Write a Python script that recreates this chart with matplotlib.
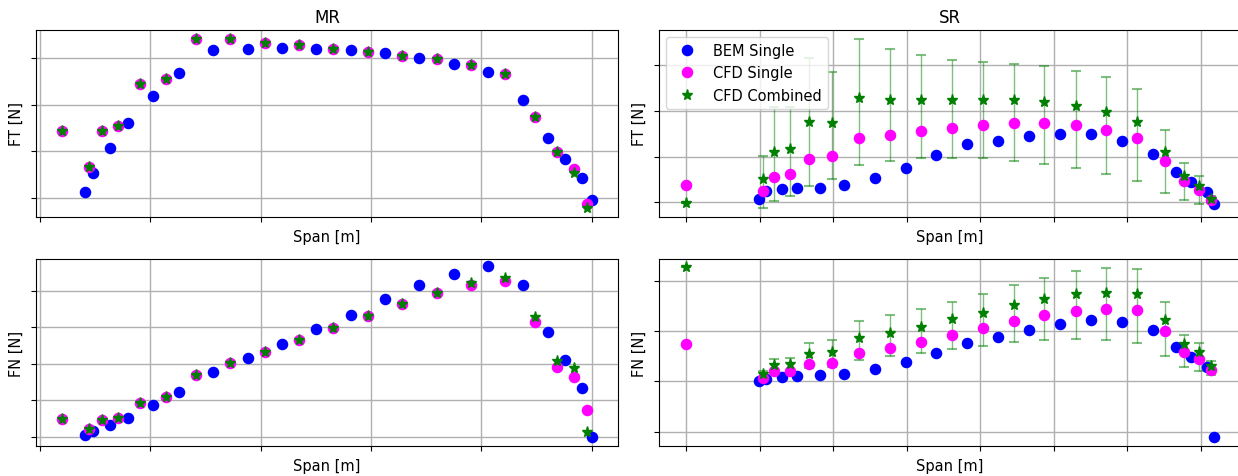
import numpy as np
import matplotlib
matplotlib.use('Agg')
import matplotlib.pyplot as plt

# ---- data (x in tick units, y in tick units) ----

# MR: BEM single
mr_bem_x = [0.406, 0.483, 0.635, 0.795, 1.024, 1.260, 1.573, 1.882, 2.194, 2.503,
            2.819, 3.128, 3.438, 3.750, 4.063, 4.378, 4.608, 4.764, 4.917, 5.000]
mr_bem_ft = [0.121, 0.536, 1.064, 1.607, 2.193, 2.693, 3.171, 3.207, 3.221, 3.207,
             3.179, 3.107, 3.000, 2.886, 2.707, 2.100, 1.279, 0.843, 0.429, -0.036]
mr_bem_fn = [0.037, 0.156, 0.320, 0.522, 0.860, 1.236, 1.776, 2.151, 2.535, 2.947,
             3.341, 3.762, 4.146, 4.449, 4.668, 4.165, 2.856, 2.105, 1.346, -0.009]

# MR: CFD single / combined
mr_cfd_x = [0.205, 0.441, 0.559, 0.712, 0.906, 1.142, 1.413, 1.726, 2.038, 2.351,
            2.660, 2.972, 3.285, 3.597, 3.910, 4.219, 4.490, 4.688, 4.840, 4.962]
mr_cfd_ft = [1.443, 0.671, 1.443, 1.550, 2.450, 2.550, 3.421, 3.407, 3.329, 3.279,
             3.207, 3.143, 3.050, 2.979, 2.864, 2.657, 1.750, 0.979, 0.629, -0.129]
mr_comb_ft = [1.443, 0.671, 1.443, 1.550, 2.450, 2.550, 3.421, 3.407, 3.329, 3.279,
              3.207, 3.143, 3.050, 2.979, 2.864, 2.657, 1.750, 0.979, 0.536, -0.214]
mr_cfd_fn = [0.494, 0.220, 0.458, 0.522, 0.915, 1.080, 1.703, 2.014, 2.325, 2.645,
             2.966, 3.314, 3.634, 3.927, 4.165, 4.265, 3.130, 1.922, 1.638, 0.723]
mr_comb_fn = [0.494, 0.220, 0.458, 0.522, 0.915, 1.080, 1.703, 2.014, 2.325, 2.645,
              2.966, 3.314, 3.634, 3.927, 4.201, 4.357, 3.268, 2.078, 1.895, 0.128]

# SR: BEM single
sr_bem_x = [0.986, 1.091, 1.302, 1.513, 1.824, 2.140, 2.562, 2.984, 3.400, 3.822,
            4.244, 4.660, 5.082, 5.503, 5.925, 6.342, 6.658, 6.869, 7.080, 7.174]
sr_bem_ft = [0.065, 0.239, 0.290, 0.312, 0.312, 0.370, 0.529, 0.754, 1.022, 1.275,
             1.341, 1.457, 1.500, 1.486, 1.341, 1.065, 0.659, 0.449, 0.225, -0.043]
sr_bem_fn = [1.015, 1.055, 1.082, 1.102, 1.121, 1.155, 1.254, 1.380, 1.559, 1.758,
             1.878, 2.031, 2.143, 2.216, 2.190, 2.031, 1.692, 1.493, 1.287, -0.106]

# SR: CFD single / combined (with min/max band of combined runs)
sr_cfd_x = [0.000, 1.044, 1.197, 1.407, 1.666, 1.982, 2.356, 2.773, 3.195, 3.611,
            4.033, 4.454, 4.871, 5.298, 5.714, 6.131, 6.505, 6.763, 6.974, 7.132]
sr_cfd_ft = [0.384, 0.239, 0.543, 0.609, 0.949, 1.007, 1.399, 1.478, 1.551, 1.630,
             1.681, 1.725, 1.725, 1.688, 1.587, 1.413, 0.891, 0.457, 0.261, 0.043]
sr_comb_ft = [-0.014, 0.500, 1.109, 1.159, 1.754, 1.725, 2.268, 2.232, 2.232, 2.239,
              2.239, 2.232, 2.196, 2.109, 1.978, 1.754, 1.094, 0.580, 0.348, 0.072]
sr_comb_ft_lo = [-0.014, -0.123, 0.029, 0.130, 0.362, 0.507, 0.804, 0.906, 0.957, 0.971,
                 0.964, 0.906, 0.833, 0.739, 0.616, 0.457, 0.203, 0.051, -0.036, -0.007]
sr_comb_ft_hi = [-0.014, 1.007, 2.072, 2.072, 3.145, 2.848, 3.565, 3.355, 3.210, 3.116,
                 3.065, 3.014, 2.964, 2.870, 2.739, 2.464, 1.580, 0.848, 0.572, 0.130]
sr_cfd_fn = [1.739, 1.075, 1.208, 1.208, 1.340, 1.374, 1.559, 1.666, 1.792, 1.924,
             2.057, 2.203, 2.316, 2.402, 2.435, 2.422, 1.997, 1.586, 1.453, 1.234]
sr_comb_fn = [3.285, 1.155, 1.327, 1.340, 1.539, 1.579, 1.858, 1.964, 2.077, 2.236,
              2.369, 2.522, 2.634, 2.741, 2.767, 2.741, 2.223, 1.739, 1.586, 1.307]
sr_comb_fn_lo = [3.285, 1.082, 1.188, 1.188, 1.261, 1.294, 1.433, 1.513, 1.573, 1.652,
                 1.712, 1.792, 1.832, 1.851, 1.825, 1.772, 1.513, 1.294, 1.214, 1.121]
sr_comb_fn_hi = [3.285, 1.208, 1.453, 1.473, 1.772, 1.831, 2.210, 2.322, 2.449, 2.588,
                 2.747, 2.926, 3.059, 3.198, 3.265, 3.238, 2.581, 1.924, 1.772, 1.407]

# ---- figure ----
W, H = 1238, 477
fig = plt.figure(figsize=(W / 100, H / 100), dpi=100)
plt.rcParams['font.size'] = 10.5


def px_axes(x0, x1, y0, y1):
    # axes from pixel box (top-left origin)
    return fig.add_axes([x0 / W, 1 - y1 / H, (x1 - x0) / W, (y1 - y0) / H])


def style(ax, xticks, yticks, xlim, ylim, ylabel):
    ax.set_xticks(xticks)
    ax.set_yticks(yticks)
    ax.set_xticklabels([])
    ax.set_yticklabels([])
    ax.set_xlim(xlim)
    ax.set_ylim(ylim)
    ax.grid(True, color='#b0b0b0', linewidth=1.0)
    ax.set_axisbelow(True)
    ax.set_xlabel('Span [m]', labelpad=2)
    ax.set_ylabel(ylabel, labelpad=2)


ms_o = 7.3
ms_s = 8.0


def draw(ax, bx, by, cx, cy, sy, lo=None, hi=None):
    ax.plot(bx, by, 'o', color='blue', markersize=ms_o, label='BEM Single', zorder=3)
    ax.plot(cx, cy, 'o', color='magenta', markersize=ms_o, label='CFD Single', zorder=3)
    if lo is not None:
        sy_a = np.array(sy)
        yerr = [sy_a - np.array(lo), np.array(hi) - sy_a]
        ax.errorbar(cx, sy, yerr=yerr, fmt='none', ecolor='green', elinewidth=1.0,
                    capsize=3.5, capthick=1.5, alpha=0.5, zorder=2)
    ax.plot(cx, sy, '*', color='green', markersize=ms_s, label='CFD Combined', zorder=4)


# MR
ax1 = px_axes(36, 618, 31, 218)
draw(ax1, mr_bem_x, mr_bem_ft, mr_cfd_x, mr_cfd_ft, mr_comb_ft)
style(ax1, range(6), range(4), (-0.035, 5.24), (-0.41, 3.61), 'FT [N]')
ax1.set_title('MR', fontsize=12)

ax3 = px_axes(36, 618, 260, 447)
draw(ax3, mr_bem_x, mr_bem_fn, mr_cfd_x, mr_cfd_fn, mr_comb_fn)
style(ax3, range(6), range(5), (-0.035, 5.24), (-0.256, 4.87), 'FN [N]')

# SR
ax2 = px_axes(659, 1240, 31, 218)
draw(ax2, sr_bem_x, sr_bem_ft, sr_cfd_x, sr_cfd_ft, sr_comb_ft, sr_comb_ft_lo, sr_comb_ft_hi)
style(ax2, range(8), range(4), (-0.369, 7.53), (-0.32, 3.76), 'FT [N]')
ax2.set_title('SR', fontsize=12)
ax2.legend(loc='upper left', framealpha=0.8)

ax4 = px_axes(659, 1240, 260, 447)
draw(ax4, sr_bem_x, sr_bem_fn, sr_cfd_x, sr_cfd_fn, sr_comb_fn, sr_comb_fn_lo, sr_comb_fn_hi)
style(ax4, range(8), range(4), (-0.369, 7.53), (-0.285, 3.44), 'FN [N]')

fig.savefig('out.png', dpi=100)
